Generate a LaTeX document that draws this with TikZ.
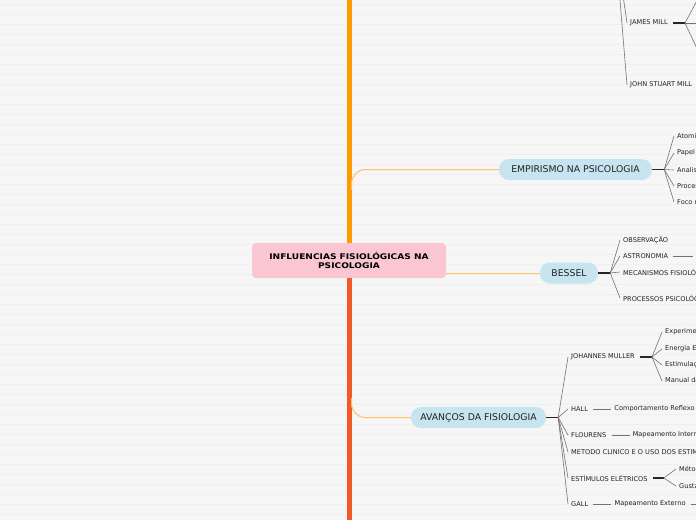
\documentclass[tikz,border=0pt]{standalone}
\usepackage{fontspec}
\setmainfont{DejaVu Sans}
\newfontfamily\rootfont[FakeStretch=1.16]{DejaVu Sans}
\usepackage{tikz}
\usetikzlibrary{positioning}
\definecolor{bgcol}{HTML}{F6F6F6}
\definecolor{stripecol}{HTML}{EFEFEF}
\definecolor{trunktop}{HTML}{FF9900}
\definecolor{trunkbot}{HTML}{F1582A}
\definecolor{rootcol}{HTML}{F9C6D1}
\definecolor{topiccol}{HTML}{C6E5F0}
\definecolor{branchcol}{HTML}{FFC266}
\definecolor{txtcol}{HTML}{222222}
\tikzset{
    rootbox/.style={rectangle, rounded corners=4pt, fill=rootcol, minimum width=194pt, minimum height=35pt, align=center, text=black, font=\rootfont\fontsize{7.8}{9.5}\selectfont\bfseries},
    topicbox/.style={rectangle, rounded corners=10pt, fill=topiccol, minimum height=21pt, text=txtcol, font=\fontsize{9.3}{10}\selectfont},
    leafbox/.style={anchor=west, inner xsep=3pt, inner ysep=1pt, text=txtcol, font=\fontsize{6.6}{7}\selectfont},
    branch/.style={draw=branchcol, line width=1pt},
    stub/.style={draw=black!85, line width=1.6pt},
    twig/.style={draw=black!55, line width=0.6pt},
}

\begin{document}
\begin{tikzpicture}[x=1pt,y=-1pt]
\useasboundingbox (0,0) rectangle (696,520);
\clip (0,0) rectangle (696,520);
\fill[bgcol] (0,0) rectangle (696,520);
\foreach \y in {4,14,...,514} \draw[stripecol, line width=0.8pt] (0,\y) -- (696,\y);

% Root
\node[rootbox] (root) at (349,260.5) {INFLUENCIAS FISIOLÓGICAS NA\\PSICOLOGIA};
\draw[trunktop, line width=5pt] (root.north) -- (349,0);
\draw[trunkbot, line width=5pt] (root.south) -- (349,520);

% Main topics
\node[topicbox, minimum width=153pt] (emp) at (575.5,169.5) {EMPIRISMO NA PSICOLOGIA};
\node[topicbox, minimum width=58pt] (bes) at (569,273) {BESSEL};
\node[topicbox, minimum width=135pt] (ava) at (478.5,417.5) {AVANÇOS DA FISIOLOGIA};

\coordinate (t1) at (351.5,190);
\coordinate (t2) at (351.5,398);
\draw[branch, rounded corners=14pt] (t1) |- (emp.west);
\draw[branch] (root.east |- bes.west) -- (bes.west);
\draw[branch, rounded corners=14pt] (t2) |- (ava.west);

% Associacionistas (upper branch)
\coordinate (mtop) at (615,-60);
\node[leafbox] (jmill) at (627,23) {JAMES MILL};
\node[leafbox] (jsmill) at (627,85) {JOHN STUART MILL};
\draw[twig] (mtop) -- (jmill.west);
\draw[twig] (mtop) -- (jsmill.west);
\draw[stub] (jmill.east) ++(2,0) -- (685,23) coordinate (jmj);
\coordinate (jm1) at (700,-5);
\coordinate (jm2) at (700,23);
\coordinate (jm3) at (700,55);
\foreach \c in {jm1,jm2,jm3} \draw[twig] (jmj) -- (\c);

% Empirismo
\draw[stub] (emp.east) -- ++(12,0) coordinate (ej);
\node[leafbox] (e1) at (674,136) {Atomismo};
\node[leafbox] (e2) at (674,153) {Papel da mente};
\node[leafbox] (e3) at (674,170) {Analise};
\node[leafbox] (e4) at (674,186) {Processos};
\node[leafbox] (e5) at (674,202) {Foco na};
\foreach \c in {e1,e2,e3,e4,e5} \draw[twig] (ej) -- (\c.west);

% Bessel
\draw[stub] (bes.east) -- ++(12,0) coordinate (bj);
\node[leafbox] (b1) at (620,240) {OBSERVAÇÃO};
\node[leafbox] (b2) at (620,256) {ASTRONOMIA};
\node[leafbox] (b3) at (620,272) {MECANISMOS FISIOLÓGICOS};
\node[leafbox] (b4) at (620,298) {PROCESSOS PSICOLÓGICOS};
\foreach \c in {b1,b2,b3,b4} \draw[twig] (bj) -- (\c.west);
\coordinate (b2x) at (693,256);
\draw[twig] ([xshift=2pt]b2.east) -- (b2x);

% Avancos da fisiologia
\draw[stub] (ava.east) -- ++(12,0) coordinate (aj);
\node[leafbox] (a1) at (568,357) {JOHANNES MULLER};
\node[leafbox] (a2) at (568,409) {HALL};
\node[leafbox] (a3) at (568,435) {FLOURENS};
\node[leafbox] (a4) at (568,452) {METODO CLINICO E O USO DOS ESTIMULOS};
\node[leafbox] (a5) at (568,478) {ESTÍMULOS ELÉTRICOS};
\node[leafbox] (a6) at (568,504) {GALL};
\foreach \c in {a1,a2,a3,a4,a5,a6} \draw[twig] (aj) -- (\c.west);

% Johannes Muller
\draw[stub] ([xshift=2pt]a1.east) -- ++(12,0) coordinate (mj);
\node[leafbox] (m1) at (662,332) {Experimentos};
\node[leafbox] (m2) at (662,349) {Energia Específica};
\node[leafbox] (m3) at (662,365) {Estimulação};
\node[leafbox] (m4) at (662,381) {Manual da Fisiologia};
\foreach \c in {m1,m2,m3,m4} \draw[twig] (mj) -- (\c.west);

% Hall, Flourens, Gall
\node[leafbox, right=20pt of a2.east, anchor=west] (h1) {Comportamento Reflexo};
\draw[twig] ([xshift=2pt]a2.east) -- (h1.west);
\node[leafbox, right=20pt of a3.east, anchor=west] (f1) {Mapeamento Interno};
\draw[twig] ([xshift=2pt]a3.east) -- (f1.west);
\node[leafbox, right=20pt of a6.east, anchor=west] (g1) {Mapeamento Externo};
\draw[twig] ([xshift=2pt]a6.east) -- (g1.west);
\coordinate (g1x) at (710,504);
\draw[twig] ([xshift=2pt]g1.east) -- (g1x);

% Estimulos eletricos
\draw[stub] ([xshift=2pt]a5.east) -- ++(11,0) coordinate (sj);
\node[leafbox] (s1) at (676,469) {Métodos};
\node[leafbox] (s2) at (676,486) {Gustav Fritsch};
\foreach \c in {s1,s2} \draw[twig] (sj) -- (\c.west);
\end{tikzpicture}
\end{document}
